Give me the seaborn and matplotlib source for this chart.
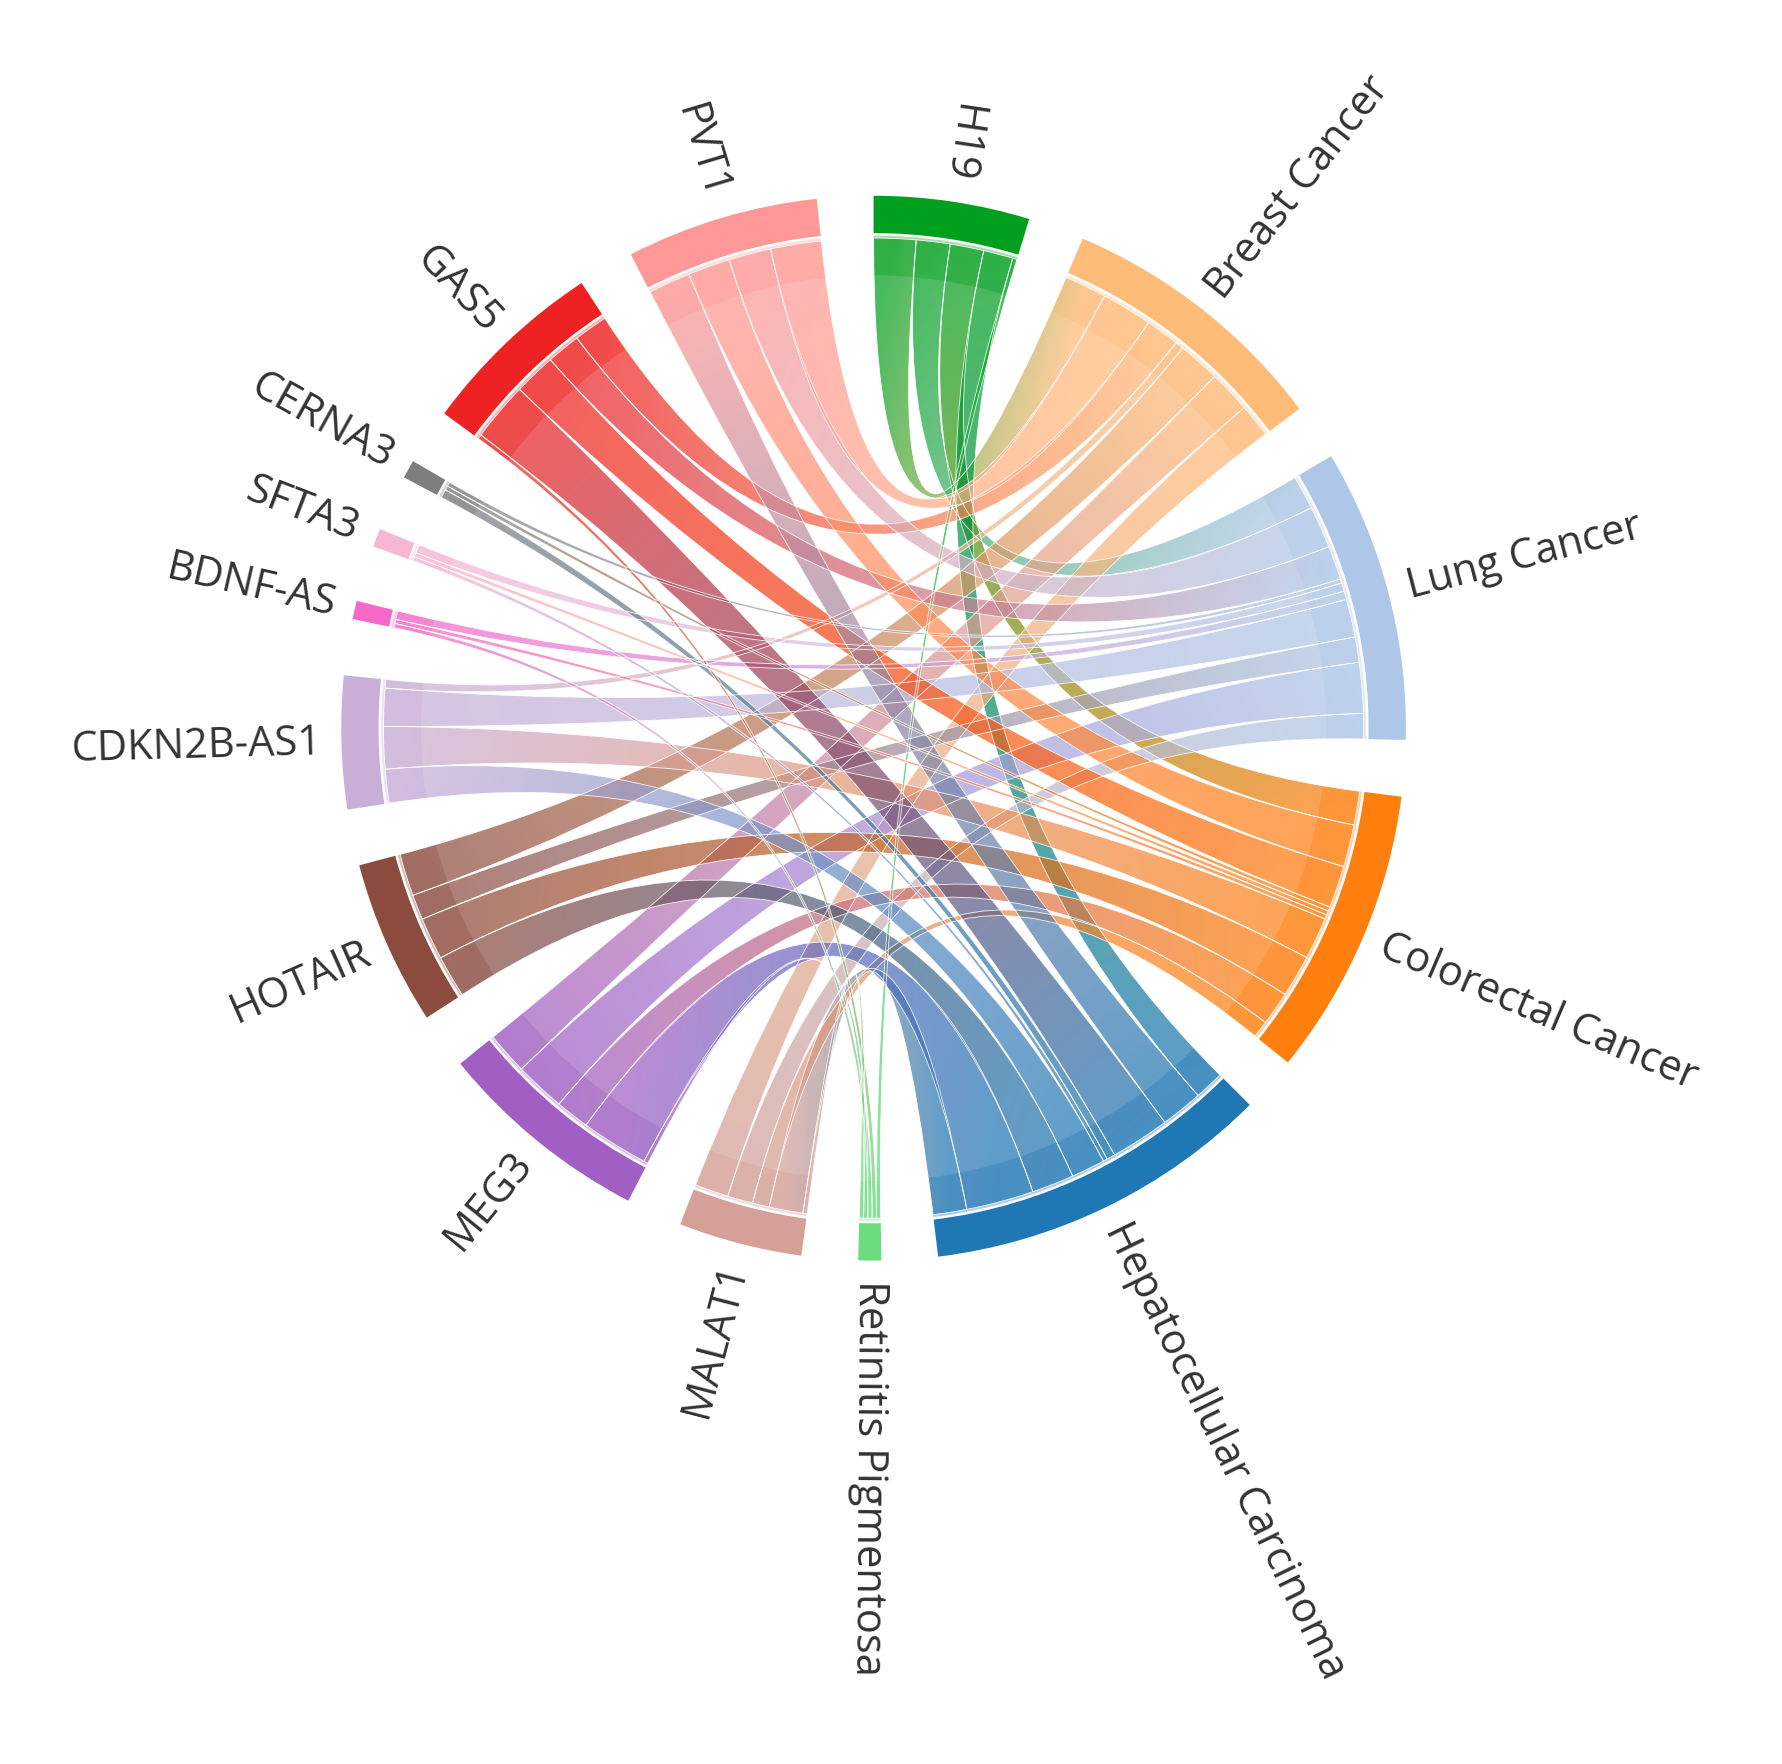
import numpy as np
import matplotlib
matplotlib.use("Agg")
import matplotlib.pyplot as plt
import seaborn as sns
from matplotlib.path import Path
from matplotlib.patches import PathPatch, Wedge
from matplotlib.colors import LinearSegmentedColormap, to_rgb

sns.set_theme(style="white")
plt.rcParams['font.family'] = ['Open Sans', 'DejaVu Sans']

lncrnas = ["H19", "MALAT1", "MEG3", "HOTAIR", "CDKN2B-AS1", "BDNF-AS", "SFTA3", "CERNA3", "GAS5", "PVT1"]
diseases = ["Breast Cancer", "Lung Cancer", "Colorectal Cancer", "Hepatocellular Carcinoma", "Retinitis Pigmentosa"]
# rows: lncRNA, cols: disease
flows = {
    "H19":        [5, 4, 4, 3.5, 0.5],
    "MALAT1":     [4, 3, 2, 4, 0.5],
    "MEG3":       [5, 6, 4, 8, 0.5],
    "HOTAIR":     [5, 3, 5, 5, 0],
    "CDKN2B-AS1": [1, 4.5, 5, 4, 0],
    "BDNF-AS":    [0, 1, 0.5, 0, 0.5],
    "SFTA3":      [0, 1, 0.5, 0.5, 0],
    "CERNA3":     [0, 0.5, 0.5, 1, 0],
    "GAS5":       [4, 4, 5, 7, 0.5],
    "PVT1":       [6, 5, 5, 5, 0],
}
colors = {
    "H19": "#00a01e", "Breast Cancer": "#ffbb78", "Lung Cancer": "#aec7e8",
    "Colorectal Cancer": "#ff7f0e", "Hepatocellular Carcinoma": "#1f77b4",
    "Retinitis Pigmentosa": "#6ddc7e", "MALAT1": "#d4a097", "MEG3": "#a15fc4",
    "HOTAIR": "#8c4b3f", "CDKN2B-AS1": "#c9afd8", "BDNF-AS": "#f768c9",
    "SFTA3": "#f7b6d2", "CERNA3": "#7f7f7f", "GAS5": "#ee2222", "PVT1": "#ff9896",
}
order = ["H19"] + diseases + ["MALAT1", "MEG3", "HOTAIR", "CDKN2B-AS1", "BDNF-AS", "SFTA3", "CERNA3", "GAS5", "PVT1"]

M = np.array([flows[l] for l in lncrnas])
tot = {l: M[i].sum() for i, l in enumerate(lncrnas)}
tot.update({d: M[:, j].sum() for j, d in enumerate(diseases)})
gap = (360 - sum(tot.values())) / len(order)

start = {}
pos = 0.0
for n in order:
    start[n] = pos
    pos += tot[n] + gap

def cw2rad(a):
    return np.deg2rad(90 - a)

fig = plt.figure(figsize=(17.83, 17.64), dpi=100)
ax = fig.add_axes([0, 0, 1, 1])
s = 1 / 0.93
ax.set_xlim(-1.633 * s, 1.700 * s)
ax.set_ylim(-1.936 * s, 1.361 * s)
ax.axis("off")

R = 0.985
cur = dict(start)
seg_l = {}
seg_d = {}
for i, l in enumerate(lncrnas):
    js = list(range(len(diseases)))
    if l != "H19":
        js = js[::-1]
    for j in js:
        v = M[i, j]
        if v <= 0:
            continue
        seg_l[(i, j)] = (cur[l], cur[l] + v)
        cur[l] += v
for j, d in enumerate(diseases):
    seq = ["H19", "PVT1", "GAS5", "CERNA3", "SFTA3", "BDNF-AS", "CDKN2B-AS1", "HOTAIR", "MEG3", "MALAT1"]
    for l in seq:
        i = lncrnas.index(l)
        v = M[i, j]
        if v <= 0:
            continue
        seg_d[(i, j)] = (cur[d], cur[d] + v)
        cur[d] += v

def arc_pts(a1, a2, r, n=30):
    t = cw2rad(np.linspace(a1, a2, n))
    return np.column_stack([r * np.cos(t), r * np.sin(t)])

for (i, j), (a1, a2) in seg_l.items():
    b1, b2 = seg_d[(i, j)]
    A = arc_pts(a1, a2, R)
    B = arc_pts(b1, b2, R)
    verts = list(A) + [(0, 0), B[0]] + list(B[1:]) + [(0, 0), A[0], A[0]]
    codes = [Path.MOVETO] + [Path.LINETO] * (len(A) - 1) + [Path.CURVE3, Path.CURVE3] + \
            [Path.LINETO] * (len(B) - 1) + [Path.CURVE3, Path.CURVE3, Path.CLOSEPOLY]
    path = Path(verts, codes)
    patch = PathPatch(path, facecolor="none", edgecolor="white", lw=0.6, alpha=0.9, zorder=3)
    ax.add_patch(patch)
    c1 = to_rgb(colors[lncrnas[i]]); c2 = to_rgb(colors[diseases[j]])
    cmap = LinearSegmentedColormap.from_list("g", [c1, c2])
    p1 = A.mean(axis=0); p2 = B.mean(axis=0)
    ext = path.get_extents()
    xs = np.linspace(ext.x0, ext.x1, 120); ys = np.linspace(ext.y0, ext.y1, 120)
    X, Y = np.meshgrid(xs, ys)
    dv = p2 - p1
    g = ((X - p1[0]) * dv[0] + (Y - p1[1]) * dv[1]) / (dv @ dv)
    im = ax.imshow(np.clip(g, 0, 1), extent=[ext.x0, ext.x1, ext.y0, ext.y1], origin="lower",
                   cmap=cmap, vmin=0, vmax=1, alpha=0.72, zorder=2, interpolation="bilinear", aspect="auto")
    im.set_clip_path(patch)

for n in order:
    a1 = start[n]; a2 = a1 + tot[n]
    c = colors[n]
    ax.add_patch(Wedge((0, 0), 1.07, 90 - a2, 90 - a1, width=0.075, facecolor=c, edgecolor="none", zorder=4))
    ax.add_patch(Wedge((0, 0), 0.99, 90 - a2, 90 - a1, width=0.08, facecolor=c, edgecolor="none", alpha=0.35, zorder=1))
    mid = (a1 + a2) / 2
    th = 90 - mid
    r = 1.11
    x, y = r * np.cos(np.deg2rad(th)), r * np.sin(np.deg2rad(th))
    thn = (th + 180) % 360 - 180
    if 60 < thn < 120:
        rot, ha = thn - 180, "right"
    elif -100 <= thn <= 60:
        rot, ha = thn, "left"
    else:
        rot, ha = thn + 180, "right"
    ax.text(x, y, n, rotation=rot, rotation_mode="anchor", ha=ha, va="center",
            fontsize=30, color="#333333", zorder=5)

fig.savefig("out.png", dpi=100, facecolor="white")
